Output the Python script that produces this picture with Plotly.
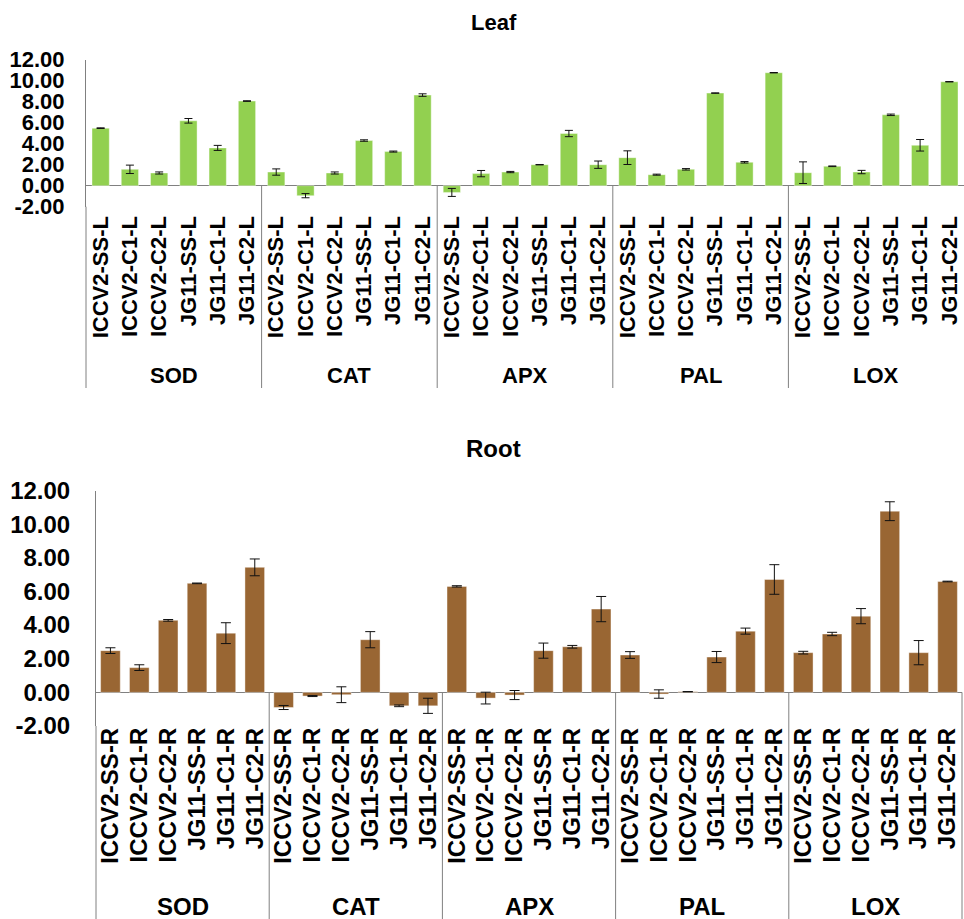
import plotly.graph_objects as go

W, H = 964, 919
FAM = "Liberation Sans, Arial, sans-serif"

# ---------------- data ----------------
groups = ["SOD", "CAT", "APX", "PAL", "LOX"]
lines = ["ICCV2-SS", "ICCV2-C1", "ICCV2-C2", "JG11-SS", "JG11-C1", "JG11-C2"]

# Leaf values (mean) and error (+/-) per enzyme
leaf_sod = [5.48, 1.56, 1.21, 6.18, 3.60, 8.06]
leaf_sod_err = [0.03, 0.40, 0.10, 0.22, 0.24, 0.03]
leaf_cat = [1.30, -0.95, 1.21, 4.30, 3.25, 8.63]
leaf_cat_err = [0.30, 0.20, 0.10, 0.07, 0.05, 0.12]
leaf_apx = [-0.64, 1.15, 1.30, 2.00, 4.97, 2.00]
leaf_apx_err = [0.38, 0.30, 0.06, 0.02, 0.30, 0.35]
leaf_pal = [2.67, 1.05, 1.56, 8.82, 2.23, 10.76]
leaf_pal_err = [0.65, 0.05, 0.07, 0.02, 0.07, 0.02]
leaf_lox = [1.24, 1.85, 1.30, 6.75, 3.85, 9.90]
leaf_lox_err = [1.03, 0.03, 0.16, 0.07, 0.55, 0.02]

# Root values (mean) and error (+/-) per enzyme
root_sod = [2.48, 1.47, 4.28, 6.48, 3.52, 7.43]
root_sod_err = [0.17, 0.17, 0.05, 0.02, 0.62, 0.50]
root_cat = [-0.90, -0.22, -0.14, 3.13, -0.80, -0.80]
root_cat_err = [0.12, 0.03, 0.47, 0.48, 0.05, 0.45]
root_apx = [6.30, -0.34, -0.16, 2.48, 2.71, 4.95]
root_apx_err = [0.04, 0.35, 0.27, 0.45, 0.08, 0.75]
root_pal = [2.22, -0.10, 0.04, 2.10, 3.64, 6.71]
root_pal_err = [0.20, 0.25, 0.01, 0.33, 0.18, 0.88]
root_lox = [2.36, 3.47, 4.53, 10.77, 2.36, 6.59]
root_lox_err = [0.08, 0.10, 0.45, 0.56, 0.72, 0.02]

y_ticks = [-2, 0, 2, 4, 6, 8, 10, 12]
y_tick_labels = [f"{v:.2f}" for v in y_ticks]

leaf_vals = leaf_sod + leaf_cat + leaf_apx + leaf_pal + leaf_lox
leaf_errs = leaf_sod_err + leaf_cat_err + leaf_apx_err + leaf_pal_err + leaf_lox_err
root_vals = root_sod + root_cat + root_apx + root_pal + root_lox
root_errs = root_sod_err + root_cat_err + root_apx_err + root_pal_err + root_lox_err

leaf_labels = [f"{l}-L" for g in groups for l in lines]
root_labels = [f"{l}-R" for g in groups for l in lines]
xs = list(range(len(leaf_labels)))
ngrp = len(lines)
ncat = len(xs)

# ---------------- layout helpers (pixels -> paper) ----------------
def py(p):
    return 1 - p / H

def pxx(p):
    return p / W

GRAY = "#808080"
GREEN = "#92D050"
BROWN = "#996633"

top_xdom = [pxx(86), 1.0]
top_ydom = [py(206.7), py(59.7)]
bot_xdom = [pxx(96), pxx(962)]
bot_ydom = [py(726), py(490.5)]

def zero_paper(dom):
    return dom[0] + (0 - y_ticks[0]) / (y_ticks[-1] - y_ticks[0]) * (dom[1] - dom[0])

fig = go.Figure()
fig.add_trace(go.Bar(
    x=xs, y=leaf_vals, xaxis="x", yaxis="y", width=0.59,
    marker=dict(color=GREEN, line=dict(color="rgba(255,255,255,0.5)", width=0.8)),
    error_y=dict(type="data", array=leaf_errs, color="#111111", thickness=1, width=4),
    showlegend=False,
))
fig.add_trace(go.Bar(
    x=xs, y=root_vals, xaxis="x2", yaxis="y2", width=0.68,
    marker=dict(color=BROWN, line=dict(color="rgba(255,255,255,0.5)", width=0.8)),
    error_y=dict(type="data", array=root_errs, color="#111111", thickness=1, width=5),
    showlegend=False,
))

shapes = []
annotations = []

def panel_decor(xref_dom, xref, ydom, bottom_px, label_y_px, fsize, right_border):
    z = zero_paper(ydom)
    shapes.append(dict(type="line", xref=xref_dom, yref="paper", x0=0, x1=0,
                       y0=py(bottom_px), y1=ydom[0], line=dict(color=GRAY, width=1)))
    kmax = len(groups) + (1 if right_border else 0)
    for k in range(1, kmax):
        xf = k * ngrp / ncat
        shapes.append(dict(type="line", xref=xref_dom, yref="paper", x0=xf, x1=xf,
                           y0=py(bottom_px), y1=z, line=dict(color=GRAY, width=1)))
    for gi, g in enumerate(groups):
        annotations.append(dict(xref=xref, yref="paper", x=gi * ngrp + (ngrp - 1) / 2,
                                y=py(label_y_px), text=g, showarrow=False,
                                xanchor="center", yanchor="middle",
                                font=dict(family=FAM, size=fsize, color="black", weight="bold")))

panel_decor("x domain", "x", top_ydom, 388, 375, 22, False)
panel_decor("x2 domain", "x2", bot_ydom, 919, 906.7, 24, True)

annotations.append(dict(xref="paper", yref="paper", x=pxx(494), y=py(22), text="Leaf",
                        showarrow=False, xanchor="center", yanchor="middle",
                        font=dict(family=FAM, size=22, color="black", weight="bold")))
annotations.append(dict(xref="paper", yref="paper", x=pxx(494), y=py(448), text="Root",
                        showarrow=False, xanchor="center", yanchor="middle",
                        font=dict(family=FAM, size=24, color="black", weight="bold")))

def xaxis_cfg(dom, anchor, labels, fsize, standoff):
    return dict(domain=dom, anchor=anchor, range=[-0.5, ncat - 0.5],
                tickmode="array", tickvals=xs, ticktext=labels, tickangle=-90,
                showline=False, showgrid=False, zeroline=False, ticks="",
                ticklabelstandoff=standoff, automargin=False,
                tickfont=dict(family=FAM, size=fsize, color="black", weight="bold"),
                fixedrange=True)

def yaxis_cfg(dom, anchor, fsize, standoff):
    return dict(domain=dom, anchor=anchor, range=[y_ticks[0], y_ticks[-1]],
                tickmode="array", tickvals=y_ticks, ticktext=y_tick_labels,
                showline=True, linecolor=GRAY, linewidth=1,
                showgrid=False, zeroline=True, zerolinecolor=GRAY, zerolinewidth=1,
                ticks="", ticklabelstandoff=standoff, automargin=False,
                tickfont=dict(family=FAM, size=fsize, color="black", weight="bold"),
                fixedrange=True)

fig.update_layout(
    width=W, height=H, autosize=False,
    margin=dict(l=0, r=0, t=0, b=0, pad=0, autoexpand=False),
    paper_bgcolor="white", plot_bgcolor="white",
    xaxis=xaxis_cfg(top_xdom, "y", leaf_labels, 22, 4),
    yaxis=yaxis_cfg(top_ydom, "x", 22, 16),
    xaxis2=xaxis_cfg(bot_xdom, "y2", root_labels, 24, -4),
    yaxis2=yaxis_cfg(bot_ydom, "x2", 24, 20),
    shapes=shapes,
    annotations=annotations,
)

fig.write_html(
    "out.html",
    config={"responsive": False, "displayModeBar": False},
    post_script="document.body.style.margin='0';document.body.style.padding='0';",
)
